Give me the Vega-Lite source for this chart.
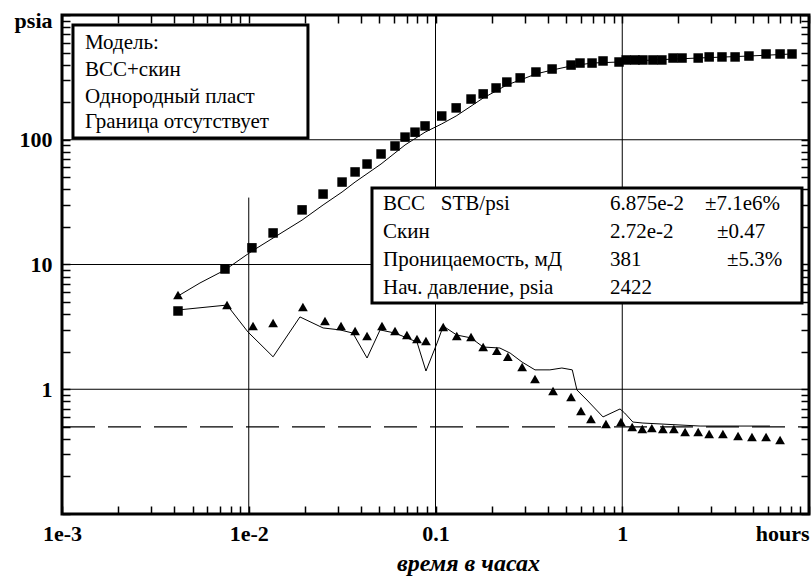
{
  "$schema": "https://vega.github.io/schema/vega-lite/v6.json",
  "width": 747,
  "height": 499,
  "autosize": "none",
  "padding": {"left": 62, "top": 15, "right": 2, "bottom": 64},
  "background": "white",
  "config": {"view": {"stroke": "black", "strokeWidth": 3}},
  "resolve": {"axis": {"x": "independent", "y": "independent"}},
  "datasets": {
    "xgrid": [
      {"gx": 0.01, "ya": 34.4, "yb": 0.1},
      {"gx": 0.1, "ya": 1000, "yb": 0.1},
      {"gx": 1, "ya": 1000, "yb": 0.1}
    ],
    "ygrid": [
      {"gy": 100, "xa": 0.001, "xb": 10},
      {"gy": 10, "xa": 0.001, "xb": 10},
      {"gy": 1, "xa": 0.001, "xb": 10}
    ],
    "dash": [{"xa": 0.001, "xb": 10, "v": 0.5}],
    "squares": [
      {"t": 0.00418, "p": 4.24}, {"t": 0.00746, "p": 9.2}, {"t": 0.0104, "p": 13.6},
      {"t": 0.0135, "p": 17.9}, {"t": 0.0193, "p": 27.4}, {"t": 0.025, "p": 36.7},
      {"t": 0.0316, "p": 45.8}, {"t": 0.0371, "p": 55.2}, {"t": 0.043, "p": 63.9},
      {"t": 0.0511, "p": 76.9}, {"t": 0.0607, "p": 89.1}, {"t": 0.0687, "p": 105},
      {"t": 0.0777, "p": 115}, {"t": 0.0879, "p": 129}, {"t": 0.108, "p": 155},
      {"t": 0.129, "p": 180}, {"t": 0.155, "p": 212}, {"t": 0.18, "p": 233},
      {"t": 0.211, "p": 260}, {"t": 0.241, "p": 290}, {"t": 0.284, "p": 313},
      {"t": 0.345, "p": 349}, {"t": 0.421, "p": 369}, {"t": 0.532, "p": 397},
      {"t": 0.594, "p": 412}, {"t": 0.689, "p": 412}, {"t": 0.789, "p": 428},
      {"t": 0.961, "p": 420}, {"t": 1.05, "p": 436}, {"t": 1.17, "p": 436},
      {"t": 1.29, "p": 436}, {"t": 1.46, "p": 436}, {"t": 1.63, "p": 436},
      {"t": 1.87, "p": 452}, {"t": 2.09, "p": 452}, {"t": 2.55, "p": 452},
      {"t": 2.92, "p": 461}, {"t": 3.42, "p": 461}, {"t": 4.02, "p": 461},
      {"t": 4.77, "p": 469}, {"t": 5.89, "p": 487}, {"t": 7.0, "p": 487},
      {"t": 8.11, "p": 487}
    ],
    "triangles": [
      {"t": 0.00418, "d": 5.69}, {"t": 0.00765, "d": 4.73}, {"t": 0.01054, "d": 3.21},
      {"t": 0.0135, "d": 3.4}, {"t": 0.0195, "d": 4.56}, {"t": 0.0256, "d": 3.52},
      {"t": 0.0312, "d": 3.21}, {"t": 0.0371, "d": 2.93}, {"t": 0.043, "d": 2.67},
      {"t": 0.0517, "d": 3.21}, {"t": 0.0607, "d": 2.93}, {"t": 0.0703, "d": 2.72},
      {"t": 0.0796, "d": 2.53}, {"t": 0.0889, "d": 2.44}, {"t": 0.11, "d": 3.15},
      {"t": 0.13, "d": 2.67}, {"t": 0.155, "d": 2.62}, {"t": 0.18, "d": 2.18},
      {"t": 0.213, "d": 2.03}, {"t": 0.244, "d": 1.82}, {"t": 0.291, "d": 1.51},
      {"t": 0.341, "d": 1.21}, {"t": 0.426, "d": 0.968}, {"t": 0.532, "d": 0.867},
      {"t": 0.601, "d": 0.67}, {"t": 0.68, "d": 0.578}, {"t": 0.818, "d": 0.527},
      {"t": 0.984, "d": 0.546}, {"t": 1.13, "d": 0.498}, {"t": 1.28, "d": 0.48},
      {"t": 1.44, "d": 0.488}, {"t": 1.65, "d": 0.48}, {"t": 1.89, "d": 0.48},
      {"t": 2.17, "d": 0.454}, {"t": 2.55, "d": 0.454}, {"t": 2.92, "d": 0.438},
      {"t": 3.46, "d": 0.438}, {"t": 4.17, "d": 0.422}, {"t": 4.95, "d": 0.414},
      {"t": 5.89, "d": 0.414}, {"t": 7.0, "d": 0.392}
    ],
    "pmodel": [
      {"t": 0.00418, "p": 5.59}, {"t": 0.00548, "p": 7.11}, {"t": 0.00746, "p": 9.04},
      {"t": 0.0104, "p": 12.8}, {"t": 0.0135, "p": 16.3}, {"t": 0.0193, "p": 22.7},
      {"t": 0.025, "p": 30.0}, {"t": 0.0316, "p": 38.1}, {"t": 0.0371, "p": 45.8},
      {"t": 0.0511, "p": 63.9}, {"t": 0.0687, "p": 90.8}, {"t": 0.0879, "p": 115},
      {"t": 0.108, "p": 134}, {"t": 0.129, "p": 155}, {"t": 0.155, "p": 186},
      {"t": 0.18, "p": 216}, {"t": 0.211, "p": 246}, {"t": 0.241, "p": 275},
      {"t": 0.284, "p": 301}, {"t": 0.345, "p": 337}, {"t": 0.421, "p": 362},
      {"t": 0.532, "p": 390}, {"t": 0.689, "p": 412}, {"t": 0.961, "p": 420},
      {"t": 1.46, "p": 436}, {"t": 2.55, "p": 452}, {"t": 4.77, "p": 469},
      {"t": 8.11, "p": 487}
    ],
    "dmodel": [
      {"t": 0.00418, "d": 4.32}, {"t": 0.00765, "d": 4.73}, {"t": 0.0099, "d": 2.88},
      {"t": 0.0135, "d": 1.82}, {"t": 0.0188, "d": 3.8}, {"t": 0.025, "d": 3.1},
      {"t": 0.0308, "d": 2.99}, {"t": 0.0361, "d": 2.82}, {"t": 0.043, "d": 1.78},
      {"t": 0.0505, "d": 2.99}, {"t": 0.0607, "d": 2.82}, {"t": 0.0703, "d": 2.58},
      {"t": 0.0796, "d": 2.39}, {"t": 0.0889, "d": 1.4}, {"t": 0.102, "d": 2.35},
      {"t": 0.11, "d": 3.21}, {"t": 0.13, "d": 2.72}, {"t": 0.155, "d": 2.58},
      {"t": 0.18, "d": 2.18}, {"t": 0.221, "d": 2.14}, {"t": 0.251, "d": 1.95},
      {"t": 0.291, "d": 1.65}, {"t": 0.341, "d": 1.43}, {"t": 0.41, "d": 1.43},
      {"t": 0.475, "d": 1.48}, {"t": 0.54, "d": 1.43}, {"t": 0.572, "d": 0.986},
      {"t": 0.647, "d": 0.82}, {"t": 0.789, "d": 0.6}, {"t": 0.973, "d": 0.695},
      {"t": 1.03, "d": 0.645}, {"t": 1.14, "d": 0.546}, {"t": 1.29, "d": 0.536},
      {"t": 2.61, "d": 0.507}, {"t": 6.18, "d": 0.507}
    ],
    "boxes": [
      {"xa": 0.001145, "xb": 0.02075, "ya": 831, "yb": 103.3},
      {"xa": 0.0457, "xb": 9.17, "ya": 41.0, "yb": 4.91}
    ],
    "texts": [
      {"x": 0.001327, "y": 596, "label": "Модель:"},
      {"x": 0.001327, "y": 362, "label": "ВСС+скин"},
      {"x": 0.001327, "y": 220, "label": "Однородный пласт"},
      {"x": 0.001327, "y": 139, "label": "Граница отсутствует"},
      {"x": 0.0524, "y": 30.5, "label": "ВСС\u00a0\u00a0\u00a0STB/psi"},
      {"x": 0.859, "y": 30.5, "label": "6.875e-2"},
      {"x": 2.77, "y": 30.5, "label": "±7.1e6%"},
      {"x": 0.0524, "y": 18.2, "label": "Скин"},
      {"x": 0.859, "y": 18.2, "label": "2.72e-2"},
      {"x": 3.22, "y": 18.2, "label": "±0.47"},
      {"x": 0.0524, "y": 10.9, "label": "Проницаемость, мД"},
      {"x": 0.859, "y": 10.9, "label": "381"},
      {"x": 3.64, "y": 10.9, "label": "±5.3%"},
      {"x": 0.0524, "y": 6.48, "label": "Нач. давление, psia"},
      {"x": 0.859, "y": 6.48, "label": "2422"}
    ]
  },
  "layer": [
    {
      "data": {"name": "xgrid"},
      "mark": {"type": "rule", "color": "black", "strokeWidth": 1},
      "encoding": {
        "x": {
          "field": "gx", "type": "quantitative",
          "scale": {"type": "log", "domain": [0.001, 10]},
          "axis": {
            "orient": "bottom",
            "values": [0.001,0.002,0.003,0.004,0.005,0.006,0.007,0.008,0.009,0.01,0.02,0.03,0.04,0.05,0.06,0.07,0.08,0.09,0.1,0.2,0.3,0.4,0.5,0.6,0.7,0.8,0.9,1,2,3,4,5,6,7,8,9,10],
            "labelExpr": "datum.value == 0.001 ? '1e-3' : datum.value == 0.01 ? '1e-2' : datum.value == 0.1 ? '0.1' : datum.value == 1 ? '1' : datum.value == 10 ? 'hours' : ''",
            "grid": false, "domain": false,
            "tickSize": -8, "tickColor": "black", "tickWidth": 1.5,
            "labelFont": "Liberation Serif", "labelFontWeight": "bold", "labelFontSize": 22, "labelColor": "black",
            "labelPadding": 17, "labelOverlap": false, "labelFlush": false, "labelBound": false,
            "labelBaseline": "top",
            "labelAlign": {"condition": {"test": "datum.value == 10", "value": "right"}, "value": "center"},
            "title": "время в часах",
            "titleFont": "Liberation Serif", "titleFontStyle": "italic", "titleFontWeight": "bold", "titleFontSize": 24, "titleColor": "black",
            "titleAnchor": "middle", "titleX": 406, "titleY": 56, "titleBaseline": "alphabetic"
          }
        },
        "y": {
          "field": "ya", "type": "quantitative",
          "scale": {"type": "log", "domain": [0.1, 1000]},
          "axis": {
            "orient": "left",
            "values": [0.1,0.2,0.3,0.4,0.5,0.6,0.7,0.8,0.9,1,2,3,4,5,6,7,8,9,10,20,30,40,50,60,70,80,90,100,200,300,400,500,600,700,800,900,1000],
            "labelExpr": "datum.value == 1000 ? 'psia' : datum.value == 100 ? '100' : datum.value == 10 ? '10' : datum.value == 1 ? '1' : ''",
            "grid": false, "domain": false,
            "tickSize": -8, "tickColor": "black", "tickWidth": 1.5,
            "labelFont": "Liberation Serif", "labelFontWeight": "bold", "labelFontSize": 22, "labelColor": "black",
            "labelPadding": 18, "labelOverlap": false, "labelFlush": false, "labelBound": false,
            "labelBaseline": "middle",
            "labelOffset": {"condition": {"test": "datum.value == 1000", "value": 5}, "value": 0},
            "title": null
          }
        },
        "y2": {"field": "yb"}
      }
    },
    {
      "data": {"name": "ygrid"},
      "mark": {"type": "rule", "color": "black", "strokeWidth": 1},
      "encoding": {
        "y": {
          "field": "gy", "type": "quantitative",
          "scale": {"type": "log", "domain": [0.1, 1000]},
          "axis": {
            "orient": "right",
            "values": [0.1,0.2,0.3,0.4,0.5,0.6,0.7,0.8,0.9,1,2,3,4,5,6,7,8,9,10,20,30,40,50,60,70,80,90,100,200,300,400,500,600,700,800,900,1000],
            "labels": false, "grid": false, "domain": false,
            "tickSize": -8, "tickColor": "black", "tickWidth": 1.5, "title": null
          }
        },
        "x": {
          "field": "xa", "type": "quantitative",
          "scale": {"type": "log", "domain": [0.001, 10]},
          "axis": {
            "orient": "top",
            "values": [0.001,0.002,0.003,0.004,0.005,0.006,0.007,0.008,0.009,0.01,0.02,0.03,0.04,0.05,0.06,0.07,0.08,0.09,0.1,0.2,0.3,0.4,0.5,0.6,0.7,0.8,0.9,1,2,3,4,5,6,7,8,9,10],
            "labels": false, "grid": false, "domain": false,
            "tickSize": -8, "tickColor": "black", "tickWidth": 1.5, "title": null
          }
        },
        "x2": {"field": "xb"}
      }
    },
    {
      "data": {"name": "dash"},
      "mark": {"type": "rule", "color": "black", "strokeWidth": 1.2, "strokeDash": [33, 13]},
      "encoding": {
        "y": {"field": "v", "type": "quantitative", "scale": {"type": "log", "domain": [0.1, 1000]}, "axis": null},
        "x": {"field": "xa", "type": "quantitative", "scale": {"type": "log", "domain": [0.001, 10]}, "axis": null},
        "x2": {"field": "xb"}
      }
    },
    {
      "data": {"name": "pmodel"},
      "mark": {"type": "line", "color": "black", "strokeWidth": 1},
      "encoding": {
        "x": {"field": "t", "type": "quantitative", "scale": {"type": "log", "domain": [0.001, 10]}, "axis": null},
        "y": {"field": "p", "type": "quantitative", "scale": {"type": "log", "domain": [0.1, 1000]}, "axis": null}
      }
    },
    {
      "data": {"name": "dmodel"},
      "mark": {"type": "line", "color": "black", "strokeWidth": 1},
      "encoding": {
        "x": {"field": "t", "type": "quantitative", "scale": {"type": "log", "domain": [0.001, 10]}, "axis": null},
        "y": {"field": "d", "type": "quantitative", "scale": {"type": "log", "domain": [0.1, 1000]}, "axis": null}
      }
    },
    {
      "data": {"name": "squares"},
      "mark": {"type": "point", "shape": "square", "filled": true, "color": "black", "size": 90, "opacity": 1},
      "encoding": {
        "x": {"field": "t", "type": "quantitative", "scale": {"type": "log", "domain": [0.001, 10]}, "axis": null},
        "y": {"field": "p", "type": "quantitative", "scale": {"type": "log", "domain": [0.1, 1000]}, "axis": null}
      }
    },
    {
      "data": {"name": "triangles"},
      "mark": {"type": "point", "shape": "triangle-up", "filled": true, "color": "black", "size": 95, "opacity": 1},
      "encoding": {
        "x": {"field": "t", "type": "quantitative", "scale": {"type": "log", "domain": [0.001, 10]}, "axis": null},
        "y": {"field": "d", "type": "quantitative", "scale": {"type": "log", "domain": [0.1, 1000]}, "axis": null}
      }
    },
    {
      "data": {"name": "boxes"},
      "mark": {"type": "rect", "fill": "white", "stroke": "black", "strokeWidth": 3},
      "encoding": {
        "x": {"field": "xa", "type": "quantitative", "scale": {"type": "log", "domain": [0.001, 10]}, "axis": null},
        "x2": {"field": "xb"},
        "y": {"field": "ya", "type": "quantitative", "scale": {"type": "log", "domain": [0.1, 1000]}, "axis": null},
        "y2": {"field": "yb"}
      }
    },
    {
      "data": {"name": "texts"},
      "mark": {"type": "text", "align": "left", "baseline": "middle", "font": "Liberation Serif", "fontSize": 21, "color": "black"},
      "encoding": {
        "x": {"field": "x", "type": "quantitative", "scale": {"type": "log", "domain": [0.001, 10]}, "axis": null},
        "y": {"field": "y", "type": "quantitative", "scale": {"type": "log", "domain": [0.1, 1000]}, "axis": null},
        "text": {"field": "label"}
      }
    }
  ]
}
